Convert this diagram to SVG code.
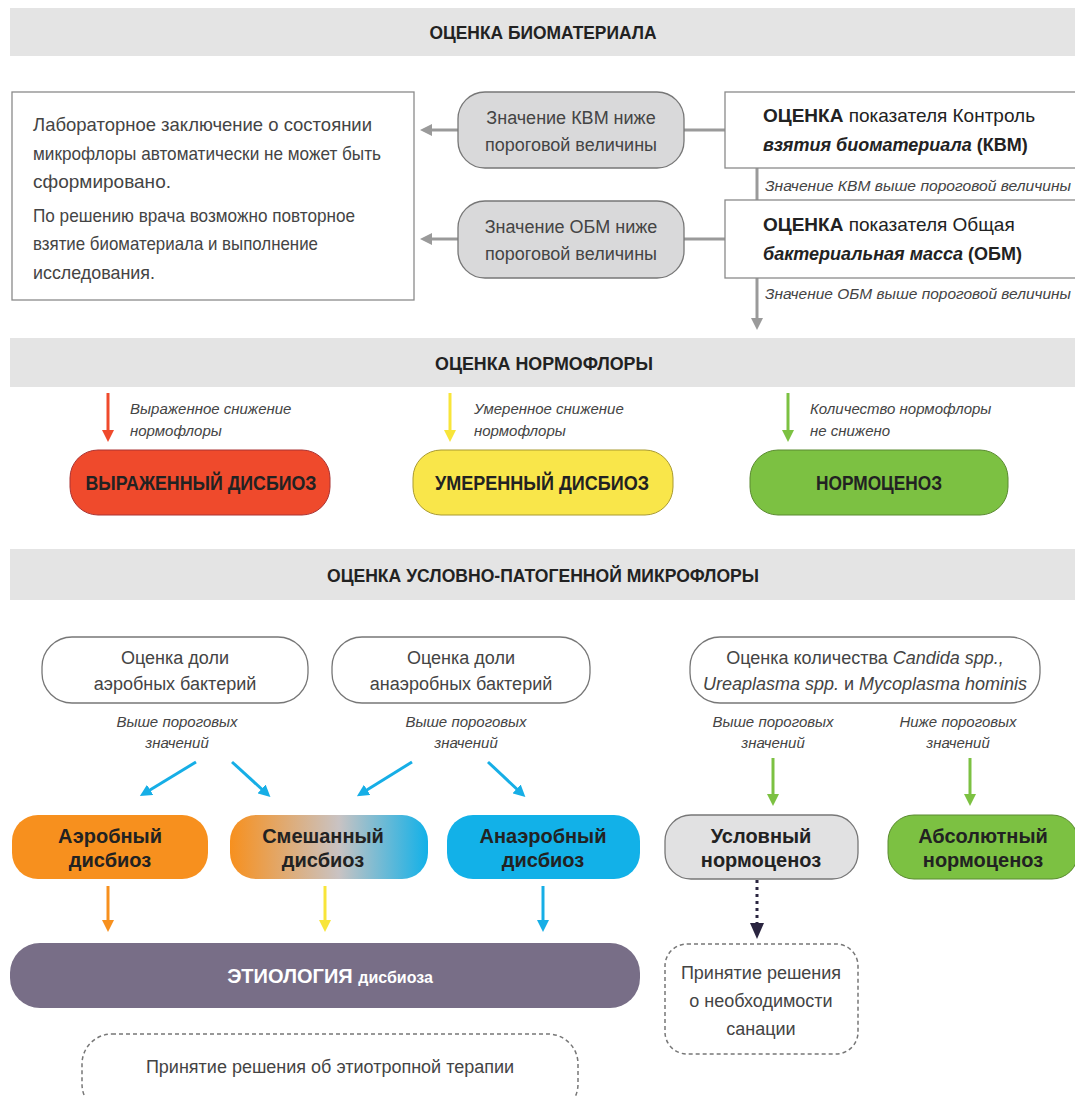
<svg xmlns="http://www.w3.org/2000/svg" width="1075" height="1096" viewBox="0 0 1075 1096">
<defs>
<style>
text{font-family:"Liberation Sans",Arial,sans-serif}
.hdr{fill:#e4e4e4}
.ht{font-size:18px;font-weight:bold;fill:#222;text-anchor:middle}
.bt{font-size:19px;fill:#444}
.pt{font-size:18px;fill:#444;text-anchor:middle}
.it{font-size:15px;font-style:italic;fill:#444}
.itc{font-size:15px;font-style:italic;fill:#444;text-anchor:middle}
.bold{font-size:19px;font-weight:bold;fill:#222}
.bold2{font-size:18px;font-weight:bold;fill:#222}
.pill{font-size:20px;font-weight:bold;fill:#222;text-anchor:middle}
.gl{stroke:#9a9a9a;stroke-width:3;fill:none}
.box{fill:#fff;stroke:#8a8a8a;stroke-width:1.3}
</style>
<linearGradient id="mix" x1="0" y1="0" x2="1" y2="0">
<stop offset="0" stop-color="#f7901e"/>
<stop offset="0.55" stop-color="#c9c3c3"/>
<stop offset="1" stop-color="#12b1e8"/>
</linearGradient>
<marker id="ag" markerWidth="4" markerHeight="4" refX="2" refY="2" orient="auto" markerUnits="strokeWidth"><path d="M0,0 L4,2 L0,4 z" fill="#9a9a9a"/></marker>
<marker id="ar" markerWidth="4" markerHeight="4" refX="2" refY="2" orient="auto" markerUnits="strokeWidth"><path d="M0,0 L4,2 L0,4 z" fill="#ef4a2c"/></marker>
<marker id="ay" markerWidth="4" markerHeight="4" refX="2" refY="2" orient="auto" markerUnits="strokeWidth"><path d="M0,0 L4,2 L0,4 z" fill="#f8e53a"/></marker>
<marker id="agr" markerWidth="4" markerHeight="4" refX="2" refY="2" orient="auto" markerUnits="strokeWidth"><path d="M0,0 L4,2 L0,4 z" fill="#7cc142"/></marker>
<marker id="ab" markerWidth="4" markerHeight="4" refX="2" refY="2" orient="auto" markerUnits="strokeWidth"><path d="M0,0 L4,2 L0,4 z" fill="#16aee6"/></marker>
<marker id="ao" markerWidth="4" markerHeight="4" refX="2" refY="2" orient="auto" markerUnits="strokeWidth"><path d="M0,0 L4,2 L0,4 z" fill="#f7901e"/></marker>
</defs>
<rect width="1075" height="1096" fill="#fff"/>

<g id="header1"><rect class="hdr" x="10" y="8" width="1065" height="48"/><text class="ht" x="543" y="39" textLength="227" lengthAdjust="spacingAndGlyphs">ОЦЕНКА БИОМАТЕРИАЛА</text></g>
<g id="header2"><rect class="hdr" x="10" y="338" width="1065" height="49"/><text class="ht" x="544" y="370" textLength="218" lengthAdjust="spacingAndGlyphs">ОЦЕНКА НОРМОФЛОРЫ</text></g>
<g id="header3"><rect class="hdr" x="10" y="549" width="1065" height="51"/><text class="ht" x="543" y="582" textLength="432" lengthAdjust="spacingAndGlyphs">ОЦЕНКА УСЛОВНО-ПАТОГЕННОЙ МИКРОФЛОРЫ</text></g>

<g id="connectors">
<line class="gl" x1="725" y1="130" x2="684" y2="130"/>
<line class="gl" x1="458" y1="130" x2="426" y2="130" marker-end="url(#ag)"/>
<line class="gl" x1="725" y1="239" x2="684" y2="239"/>
<line class="gl" x1="458" y1="239" x2="426" y2="239" marker-end="url(#ag)"/>
<line class="gl" x1="757" y1="168" x2="757" y2="200"/>
<line class="gl" x1="757" y1="278" x2="757" y2="324" marker-end="url(#ag)"/>
<text class="it" x="765" y="191" textLength="306" lengthAdjust="spacingAndGlyphs">Значение КВМ выше пороговой величины</text>
<text class="it" x="765" y="299" textLength="306" lengthAdjust="spacingAndGlyphs">Значение ОБМ выше пороговой величины</text>

<line x1="108" y1="393" x2="108" y2="436" stroke="#ef4a2c" stroke-width="3" marker-end="url(#ar)"/>
<line x1="450" y1="393" x2="450" y2="436" stroke="#f8e53a" stroke-width="3" marker-end="url(#ay)"/>
<line x1="788" y1="393" x2="788" y2="436" stroke="#7cc142" stroke-width="3" marker-end="url(#agr)"/>
<text class="it" x="130" y="414">Выраженное снижение</text><text class="it" x="130" y="436">нормофлоры</text>
<text class="it" x="474" y="414">Умеренное снижение</text><text class="it" x="474" y="436">нормофлоры</text>
<text class="it" x="810" y="414">Количество нормофлоры</text><text class="it" x="810" y="436">не снижено</text>

<text class="itc" x="177" y="727">Выше пороговых</text><text class="itc" x="177" y="748">значений</text>
<text class="itc" x="466" y="727">Выше пороговых</text><text class="itc" x="466" y="748">значений</text>
<text class="itc" x="773" y="727">Выше пороговых</text><text class="itc" x="773" y="748">значений</text>
<text class="itc" x="958" y="727">Ниже пороговых</text><text class="itc" x="958" y="748">значений</text>
<line x1="196" y1="762" x2="145" y2="793" stroke="#16aee6" stroke-width="3" marker-end="url(#ab)"/>
<line x1="232" y1="762" x2="266" y2="793" stroke="#16aee6" stroke-width="3" marker-end="url(#ab)"/>
<line x1="412" y1="762" x2="362" y2="793" stroke="#16aee6" stroke-width="3" marker-end="url(#ab)"/>
<line x1="488" y1="762" x2="521" y2="793" stroke="#16aee6" stroke-width="3" marker-end="url(#ab)"/>
<line x1="773" y1="758" x2="773" y2="800" stroke="#7cc142" stroke-width="3" marker-end="url(#agr)"/>
<line x1="970" y1="758" x2="970" y2="800" stroke="#7cc142" stroke-width="3" marker-end="url(#agr)"/>

<line x1="108" y1="886" x2="108" y2="926" stroke="#f7901e" stroke-width="3" marker-end="url(#ao)"/>
<line x1="325" y1="886" x2="325" y2="926" stroke="#f8e53a" stroke-width="3" marker-end="url(#ay)"/>
<line x1="543" y1="886" x2="543" y2="926" stroke="#16aee6" stroke-width="3" marker-end="url(#ab)"/>
<line x1="757" y1="880" x2="757" y2="926" stroke="#2a2540" stroke-width="3" stroke-dasharray="3 4"/>
<path d="M750,923 L764,923 L757,939 z" fill="#2a2540"/>
</g>

<g id="lab-box"><rect class="box" x="12" y="92" width="402" height="208"/>
<text class="bt" x="33" y="131" textLength="339" lengthAdjust="spacingAndGlyphs">Лабораторное заключение о состоянии</text>
<text class="bt" x="33" y="160" textLength="348" lengthAdjust="spacingAndGlyphs">микрофлоры автоматически не может быть</text>
<text class="bt" x="33" y="188" textLength="138" lengthAdjust="spacingAndGlyphs">сформировано.</text>
<text class="bt" x="33" y="222" textLength="322" lengthAdjust="spacingAndGlyphs">По решению врача возможно повторное</text>
<text class="bt" x="33" y="250" textLength="285" lengthAdjust="spacingAndGlyphs">взятие биоматериала и выполнение</text>
<text class="bt" x="33" y="279" textLength="122" lengthAdjust="spacingAndGlyphs">исследования.</text></g>

<g id="kvm-low"><rect x="458" y="92" width="226" height="76" rx="27" fill="#d9d9da" stroke="#777" stroke-width="1.3"/>
<text class="pt" x="571" y="124">Значение КВМ ниже</text><text class="pt" x="571" y="151">пороговой величины</text></g>
<g id="obm-low"><rect x="458" y="201" width="226" height="77" rx="27" fill="#d9d9da" stroke="#777" stroke-width="1.3"/>
<text class="pt" x="571" y="233">Значение ОБМ ниже</text><text class="pt" x="571" y="260">пороговой величины</text></g>

<g id="kvm"><rect class="box" x="725" y="92" width="355" height="76"/>
<text class="bold" x="763" y="122">ОЦЕНКА <tspan font-weight="normal">показателя Контроль</tspan></text>
<text class="bold2" x="763" y="151"><tspan font-style="italic">взятия биоматериала</tspan> (КВМ)</text></g>
<g id="obm"><rect class="box" x="725" y="200" width="355" height="78"/>
<text class="bold" x="763" y="231">ОЦЕНКА <tspan font-weight="normal">показателя Общая</tspan></text>
<text class="bold2" x="763" y="260"><tspan font-style="italic">бактериальная масса</tspan> (ОБМ)</text></g>

<g id="severe"><rect x="70" y="450" width="260" height="65" rx="28" fill="#ef4a2c" stroke="#a33" stroke-width="1"/><text class="pill" x="201" y="490" textLength="231" lengthAdjust="spacingAndGlyphs">ВЫРАЖЕННЫЙ ДИСБИОЗ</text></g>
<g id="moderate"><rect x="413" y="450" width="260" height="65" rx="28" fill="#f9e64a" stroke="#a99a30" stroke-width="1"/><text class="pill" x="542" y="490" textLength="214" lengthAdjust="spacingAndGlyphs">УМЕРЕННЫЙ ДИСБИОЗ</text></g>
<g id="normo"><rect x="750" y="450" width="258" height="65" rx="28" fill="#7cc142" stroke="#5a8a30" stroke-width="1"/><text class="pill" x="879" y="490" textLength="126" lengthAdjust="spacingAndGlyphs">НОРМОЦЕНОЗ</text></g>

<g id="aer-share"><rect x="42" y="637" width="266" height="66" rx="30" fill="#fff" stroke="#777" stroke-width="1.3"/>
<text class="pt" x="175" y="664">Оценка доли</text><text class="pt" x="175" y="690">аэробных бактерий</text></g>
<g id="anaer-share"><rect x="332" y="637" width="258" height="66" rx="30" fill="#fff" stroke="#777" stroke-width="1.3"/>
<text class="pt" x="461" y="664">Оценка доли</text><text class="pt" x="461" y="690">анаэробных бактерий</text></g>
<g id="candida"><rect x="690" y="637" width="350" height="66" rx="30" fill="#fff" stroke="#777" stroke-width="1.3"/>
<text class="pt" x="865" y="664">Оценка количества <tspan font-style="italic">Candida spp.,</tspan></text>
<text class="pt" x="865" y="690"><tspan font-style="italic">Ureaplasma spp.</tspan> и <tspan font-style="italic">Mycoplasma hominis</tspan></text></g>

<g id="aer"><rect x="12" y="815" width="196" height="64" rx="26" fill="#f7901e"/><text class="pill" x="110" y="843">Аэробный</text><text class="pill" x="110" y="867">дисбиоз</text></g>
<g id="mixed"><rect x="230" y="815" width="198" height="64" rx="26" fill="url(#mix)"/><text class="pill" x="323" y="843">Смешанный</text><text class="pill" x="323" y="867">дисбиоз</text></g>
<g id="anaer"><rect x="447" y="815" width="193" height="64" rx="26" fill="#12b1e8"/><text class="pill" x="543" y="843">Анаэробный</text><text class="pill" x="543" y="867">дисбиоз</text></g>
<g id="cond"><rect x="665" y="815" width="193" height="64" rx="26" fill="#e1e1e2" stroke="#777" stroke-width="1.3"/><text class="pill" x="761" y="843">Условный</text><text class="pill" x="761" y="867">нормоценоз</text></g>
<g id="abs"><rect x="888" y="815" width="190" height="64" rx="26" fill="#7cc142" stroke="#5a8a30" stroke-width="1"/><text class="pill" x="983" y="843">Абсолютный</text><text class="pill" x="983" y="867">нормоценоз</text></g>

<g id="etiology"><rect x="10" y="943" width="630" height="65" rx="30" fill="#786e87"/>
<text x="330" y="983" font-size="20" font-weight="bold" fill="#fff" text-anchor="middle">ЭТИОЛОГИЯ <tspan font-size="16">дисбиоза</tspan></text></g>

<g id="sanation"><rect x="665" y="944" width="193" height="110" rx="22" fill="#fff" stroke="#777" stroke-width="1.5" stroke-dasharray="4 3"/>
<text class="pt" x="761" y="979">Принятие решения</text><text class="pt" x="761" y="1007">о необходимости</text><text class="pt" x="761" y="1035">санации</text></g>

<g id="therapy"><rect x="82" y="1034" width="496" height="80" rx="30" fill="#fff" stroke="#777" stroke-width="1.5" stroke-dasharray="4 3"/>
<text class="pt" x="330" y="1073">Принятие решения об этиотропной терапии</text></g>
</svg>
